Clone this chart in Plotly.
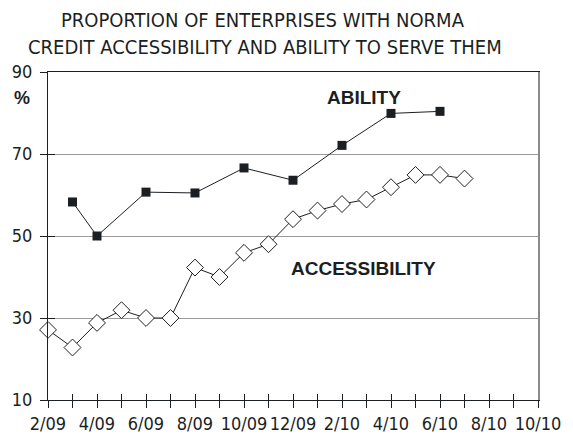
import plotly.graph_objects as go

# Month labels, Feb 2009 .. Oct 2010
months = ["2/09", "3/09", "4/09", "5/09", "6/09", "7/09", "8/09", "9/09", "10/09",
          "11/09", "12/09", "1/10", "2/10", "3/10", "4/10", "5/10", "6/10", "7/10",
          "8/10", "9/10", "10/10"]

# Share of enterprises (%), None where no survey value
ability = [None, 58.3, 50.0, None, 60.7, None, 60.5, None, 66.6, None, 63.6, None,
           72.1, None, 79.9, None, 80.4, None, None, None, None]
accessibility = [27.1, 22.8, 28.8, 31.9, 30.0, 30.0, 42.3, 40.0, 45.9, 48.0, 54.1,
                 56.2, 57.8, 58.9, 61.9, 64.9, 64.9, 64.0, None, None, None]

y_ticks = [10, 30, 50, 70, 90]

x = list(range(len(months)))
tick_text = [m if i % 2 == 0 else "" for i, m in enumerate(months)]

INK = "#1c1f22"
GRID = "#9a9a9a"
NARROW = "Liberation Sans Narrow, Arial Narrow, DejaVu Sans Condensed, sans-serif"
BOLD = "Liberation Sans, Arial, sans-serif"

fig = go.Figure()

fig.add_trace(go.Scatter(
    x=x, y=accessibility, mode="lines+markers", connectgaps=True,
    line=dict(color=INK, width=1),
    marker=dict(symbol="diamond", size=13, color="white",
                line=dict(color=INK, width=1)),
    cliponaxis=False, showlegend=False, name="ACCESSIBILITY"))

fig.add_trace(go.Scatter(
    x=x, y=ability, mode="lines+markers", connectgaps=True,
    line=dict(color=INK, width=1),
    marker=dict(symbol="square", size=9, color=INK, line=dict(width=0)),
    cliponaxis=False, showlegend=False, name="ABILITY"))

# helper traces so the overlay axes (inner tick halves, right frame) are drawn
fig.add_trace(go.Scatter(x=[None], y=[None], xaxis="x2", yaxis="y2",
                         showlegend=False, hoverinfo="skip"))
fig.add_trace(go.Scatter(x=[None], y=[None], xaxis="x", yaxis="y3",
                         showlegend=False, hoverinfo="skip"))

tick_font = dict(family=NARROW, size=18, color=INK)

fig.update_layout(
    width=573, height=446,
    margin=dict(l=48, r=27, t=72, b=41),
    paper_bgcolor="white", plot_bgcolor="white",
    xaxis=dict(range=[0, 20], tickmode="array", tickvals=x, ticktext=tick_text,
               ticks="outside", ticklen=7, tickwidth=1, tickcolor=INK,
               showline=True, linecolor=INK, linewidth=1, mirror=True,
               showgrid=False, zeroline=False, tickfont=tick_font),
    xaxis2=dict(range=[0, 20], overlaying="x", anchor="y", tickmode="array",
                tickvals=x, ticks="inside", ticklen=6, tickwidth=1, tickcolor=INK,
                showticklabels=False, showline=False, showgrid=False,
                zeroline=False),
    yaxis=dict(range=[10, 90], tickmode="array", tickvals=y_ticks,
               ticks="outside", ticklen=7, tickwidth=1, tickcolor=INK,
               ticklabelstandoff=4,
               showline=True, linecolor=INK, linewidth=1,
               showgrid=True, gridcolor=GRID, gridwidth=1,
               zeroline=False, tickfont=tick_font),
    yaxis2=dict(range=[10, 90], overlaying="y", anchor="x", side="left",
                tickmode="array", tickvals=y_ticks, ticks="inside", ticklen=7,
                tickwidth=1, tickcolor=INK, showticklabels=False,
                showline=False, showgrid=False, zeroline=False),
    yaxis3=dict(range=[10, 90], overlaying="y", anchor="x", side="right",
                showline=True, linecolor="#8a8a8a", linewidth=2, ticks="",
                showticklabels=False, showgrid=False, zeroline=False),
    annotations=[
        dict(text="PROPORTION OF ENTERPRISES WITH NORMA", xref="paper", yref="paper",
             x=(267 - 48) / 498, y=1 + (72 - 19) / 333, xanchor="center",
             yanchor="middle", showarrow=False,
             font=dict(family=NARROW, size=20, color=INK)),
        dict(text="CREDIT ACCESSIBILITY AND ABILITY TO SERVE THEM", xref="paper",
             yref="paper", x=(269 - 48) / 498, y=1 + (72 - 47) / 333,
             xanchor="center", yanchor="middle", showarrow=False,
             font=dict(family=NARROW, size=20, color=INK)),
        dict(text="<b>%</b>", xref="paper", yref="paper", x=(22 - 48) / 498,
             y=1 - (98 - 72) / 333, xanchor="center", yanchor="middle",
             showarrow=False, font=dict(family=BOLD, size=18, color=INK)),
        dict(text="<b>ABILITY</b>", x=12.9, y=83.8, xanchor="center",
             yanchor="middle", showarrow=False,
             font=dict(family=BOLD, size=19, color=INK)),
        dict(text="<b>ACCESSIBILITY</b>", x=12.87, y=42.0, xanchor="center",
             yanchor="middle", showarrow=False,
             font=dict(family=BOLD, size=19, color=INK)),
    ],
)

fig.write_html("out.html")
